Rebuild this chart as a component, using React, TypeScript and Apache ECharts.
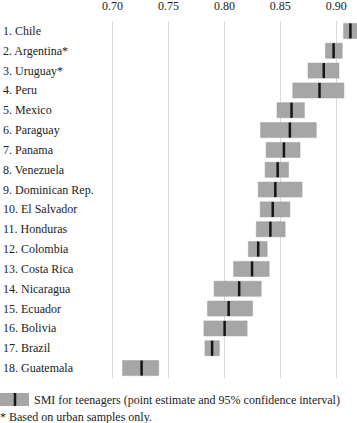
import React, { useEffect, useRef } from "react";
import * as echarts from "echarts";

const categories = [
  "1. Chile",
  "2. Argentina*",
  "3. Uruguay*",
  "4. Peru",
  "5. Mexico",
  "6. Paraguay",
  "7. Panama",
  "8. Venezuela",
  "9. Dominican Rep.",
  "10. El Salvador",
  "11. Honduras",
  "12. Colombia",
  "13. Costa Rica",
  "14. Nicaragua",
  "15. Ecuador",
  "16. Bolivia",
  "17. Brazil",
  "18. Guatemala",
];

const lower = [0.9065, 0.8903, 0.8747, 0.8611, 0.847, 0.8323, 0.8373, 0.8364, 0.8302, 0.832, 0.8285, 0.8214, 0.8082, 0.7908, 0.7849, 0.7817, 0.7826, 0.709];
const estimate = [0.9126, 0.8976, 0.8888, 0.885, 0.86, 0.8585, 0.8532, 0.8476, 0.8455, 0.8432, 0.8411, 0.8302, 0.8247, 0.8132, 0.8038, 0.8002, 0.789, 0.726];
const upper = [0.922, 0.9053, 0.9024, 0.9068, 0.8715, 0.8821, 0.8676, 0.8573, 0.8694, 0.8585, 0.8543, 0.8382, 0.84, 0.8329, 0.8252, 0.8203, 0.7955, 0.7413];

const xMin = 0.7;
const xMax = 0.9185;
const xInterval = 0.05;

const legendText = "SMI for teenagers (point estimate and 95% confidence interval)";
const footnote = "* Based on urban samples only.";

const FONT = "Liberation Serif";
const BOX = "#a6a6a6";
const MARK = "#141414";

export default function App() {
  const ref = useRef<HTMLDivElement>(null);
  useEffect(() => {
    if (!ref.current) return;
    const chart = echarts.init(ref.current, undefined, { renderer: "svg" });
    const data = categories.map((c, i) => [i, lower[i], estimate[i], upper[i]]);
    chart.setOption({
      animation: false,
      textStyle: { fontFamily: FONT },
      grid: { left: 109.5, right: 0, top: 21, bottom: 45 },
      xAxis: {
        type: "value",
        position: "top",
        min: xMin,
        max: xMax,
        interval: xInterval,
        axisLine: { show: false },
        axisTick: { show: false },
        splitLine: { show: true, showMaxLine: false, lineStyle: { color: "#d9d9d9", width: 1 } },
        axisLabel: {
          showMaxLabel: false,
          margin: 9,
          fontFamily: FONT,
          fontSize: 12,
          color: "#222",
          formatter: (v: number) => v.toFixed(2),
        },
      },
      yAxis: {
        type: "category",
        inverse: true,
        data: categories,
        axisLine: { show: false },
        axisTick: { show: false },
        splitLine: { show: false },
        axisLabel: {
          align: "left",
          margin: 109.5,
          fontFamily: FONT,
          fontSize: 12,
          color: "#222",
          padding: [4, 0, 0, 0],
        },
      },
      series: [
        {
          type: "custom",
          data,
          encode: { x: [1, 2, 3], y: 0 },
          renderItem: (params: any, api: any) => {
            const idx = api.value(0);
            const lo = api.coord([api.value(1), idx]);
            const est = api.coord([api.value(2), idx]);
            const hi = api.coord([api.value(3), idx]);
            const h = api.size([0, 1])[1] * 0.76;
            const cs = params.coordSys;
            const rect = echarts.graphic.clipRectByRect(
              { x: lo[0], y: lo[1] - h / 2, width: hi[0] - lo[0], height: h },
              { x: cs.x, y: cs.y, width: cs.width, height: cs.height }
            );
            return {
              type: "group",
              children: [
                rect && {
                  type: "rect",
                  shape: rect,
                  style: { fill: BOX, stroke: "#9a9a9a", lineWidth: 0.5 },
                },
                {
                  type: "line",
                  shape: { x1: est[0], y1: est[1] - h / 2, x2: est[0], y2: est[1] + h / 2 },
                  style: { stroke: MARK, lineWidth: 2.5 },
                },
              ].filter(Boolean),
            };
          },
        },
      ],
      graphic: [
        { type: "rect", left: 0, top: 393, shape: { x: 0, y: 0, width: 29, height: 13 }, style: { fill: BOX } },
        { type: "line", shape: { x1: 15, y1: 393, x2: 15, y2: 406 }, style: { stroke: MARK, lineWidth: 2.5 } },
        {
          type: "text",
          x: 34,
          y: 399.5,
          style: { text: legendText, fontFamily: FONT, fontSize: 12, fill: "#222", verticalAlign: "middle" },
        },
        {
          type: "text",
          x: 0,
          y: 416.5,
          style: { text: footnote, fontFamily: FONT, fontSize: 12, fill: "#222", verticalAlign: "middle" },
        },
      ],
    });
    return () => chart.dispose();
  }, []);
  return <div ref={ref} style={{ position: "absolute", left: 0, top: 0, width: 357, height: 423 }} />;
}
